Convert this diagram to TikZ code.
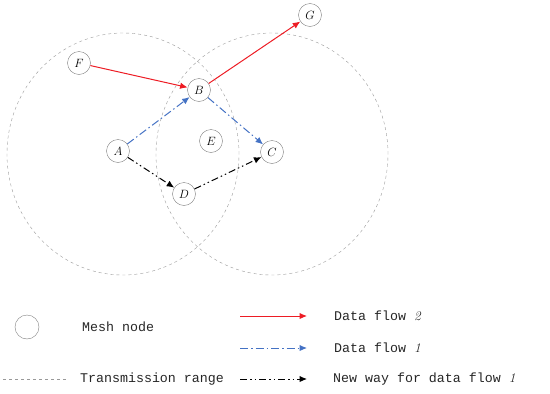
\documentclass[tikz,border=0pt]{standalone}
\usepackage{fontspec}
\newfontfamily\legendfont{Liberation Mono}
\usetikzlibrary{arrows.meta}
\definecolor{flowred}{RGB}{237,28,36}
\definecolor{flowblue}{RGB}{68,114,196}
\tikzset{
  mesh/.style={circle,draw=gray,thin,minimum size=23pt,inner sep=0pt,font=\fontsize{11.5}{13}\selectfont},
  txrange/.style={draw=gray!80,dashed,thin},
  flowtip/.style={-{Latex[length=7.5pt,width=6.5pt]}},
  flowtwo/.style={draw=flowred,line width=1pt,flowtip},
  flowone/.style={draw=flowblue,line width=1pt,flowtip,dash pattern=on 8pt off 3pt on 1.5pt off 3pt},
  newway/.style={draw=black,line width=1pt,flowtip,dash pattern=on 7pt off 3pt on 1.5pt off 3pt on 1.5pt off 3pt},
  legtext/.style={anchor=west,inner sep=0pt,text=black!85,font=\legendfont\fontsize{13.3}{15}\selectfont}
}
\begin{document}
\begin{tikzpicture}[x=1pt,y=-1pt]
  \useasboundingbox (0,0) rectangle (550,394);
  \draw[txrange] (123,154) ellipse [x radius=116pt, y radius=121pt];
  \draw[txrange] (272,154) ellipse [x radius=116pt, y radius=121pt];

  \node[mesh] (g) at (310,15) {$G$};
  \node[mesh] (f) at (79,63) {$F$};
  \node[mesh] (b) at (199,90) {$B$};
  \node[mesh] (a) at (118,151) {$A$};
  \node[mesh] (e) at (211,141) {$E$};
  \node[mesh] (c) at (272,152) {$C$};
  \node[mesh] (d) at (184,194) {$D$};

  \draw[flowtwo] (f) -- (b);
  \draw[flowtwo] (b) -- (g);
  \draw[flowone] (a) -- (b);
  \draw[flowone] (b) -- (c);
  \draw[newway] (a) -- (d);
  \draw[newway] (d) -- (c);

  \node[mesh,minimum size=24pt] (legnode) at (27,327) {};
  \node[legtext] (legnodetext) at (82,327) {Mesh node};
  \coordinate (rangestart) at (3,379);
  \coordinate (rangeend) at (66,379);
  \draw[txrange] (rangestart) -- (rangeend);
  \node[legtext] (rangetext) at (80,379) {Transmission range};

  \coordinate (twostart) at (240,316);
  \coordinate (twoend) at (307,316);
  \draw[flowtwo] (twostart) -- (twoend);
  \node[legtext] (twotext) at (334,316) {Data flow {\rmfamily\itshape 2}};
  \coordinate (onestart) at (240,348);
  \coordinate (oneend) at (307,348);
  \draw[flowone] (onestart) -- (oneend);
  \node[legtext] (onetext) at (334,348) {Data flow {\rmfamily\itshape 1}};
  \coordinate (newstart) at (240,379);
  \coordinate (newend) at (307,379);
  \draw[newway] (newstart) -- (newend);
  \node[legtext] (newtext) at (333,379) {New way for data flow {\rmfamily\itshape 1}};
\end{tikzpicture}
\end{document}
